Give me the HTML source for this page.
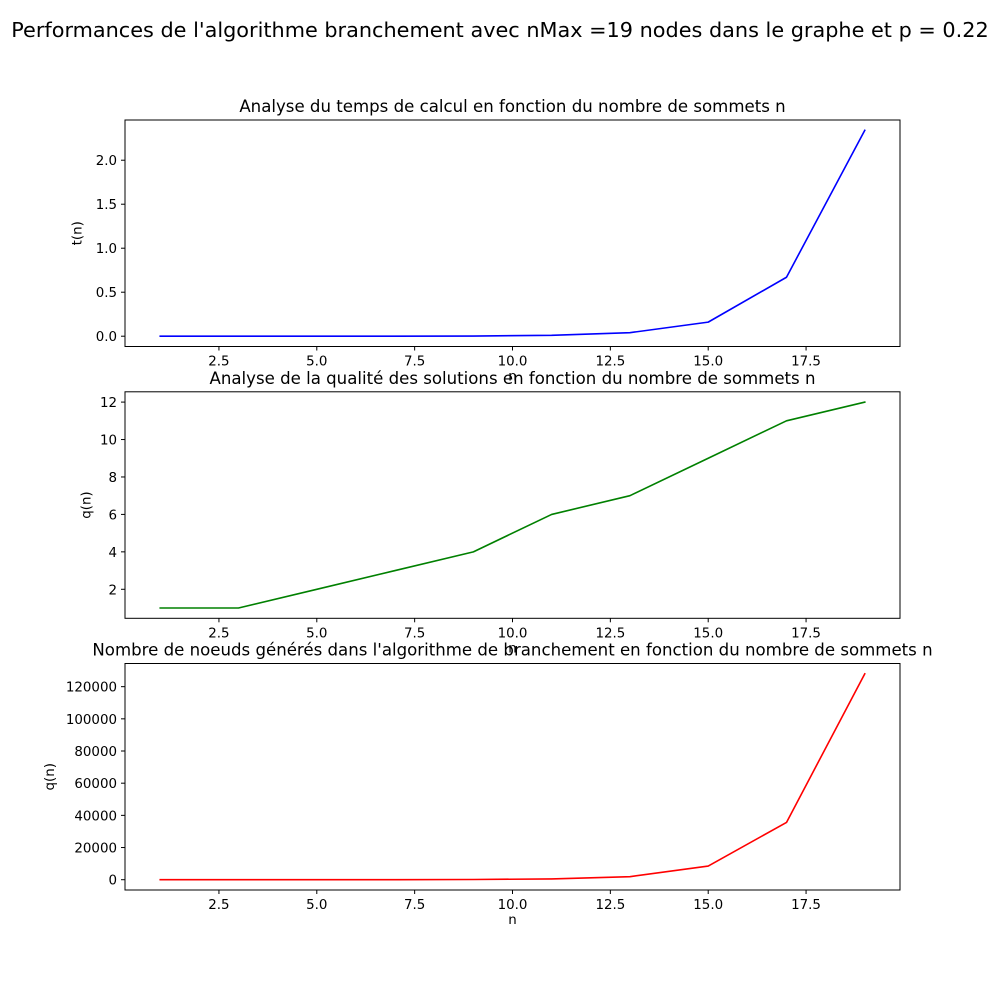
<!DOCTYPE html>
<html><head><meta charset="utf-8"><style>
body{margin:0;background:#fff;}
svg{display:block;font-family:"DejaVu Sans","Liberation Sans",sans-serif;}
</style></head><body>
<svg id="fig" width="1000" height="1000" viewBox="0 0 1000 1000">
<rect width="1000" height="1000" fill="#fff"/>
<text x="500" y="37" font-size="20.8" text-anchor="middle">Performances de l'algorithme branchement avec nMax =19 nodes dans le graphe et p = 0.22</text>
</svg>
<script>
const nValues = [1,3,5,7,9,11,13,15,17,19];
const timeValues = [0,0,0,0,0.002,0.01,0.04,0.16,0.67,2.34];
const qualityValues = [1,1,2,3,4,6,7,9,11,12];
const nodeValues = [1,5,15,40,120,500,1900,8500,35600,128000];
const xTicks = [2.5,5.0,7.5,10.0,12.5,15.0,17.5];
const xTickLabels = ["2.5","5.0","7.5","10.0","12.5","15.0","17.5"];
const timeTicks = [0,0.5,1,1.5,2];
const timeTickLabels = ["0.0","0.5","1.0","1.5","2.0"];
const qualityTicks = [2,4,6,8,10,12];
const qualityTickLabels = ["2","4","6","8","10","12"];
const nodeTicks = [0,20000,40000,60000,80000,100000,120000];
const nodeTickLabels = ["0","20000","40000","60000","80000","100000","120000"];

const NS="http://www.w3.org/2000/svg";
const svg=document.getElementById('fig');
function mk(tag,attrs,parent){const e=document.createElementNS(NS,tag);for(const k in attrs)e.setAttribute(k,attrs[k]);(parent||svg).appendChild(e);return e;}

function panel(key,top,title,ylabel,ys,yt,ytl,color){
  const L=125,R=900,H=226.5,B=top+H;
  const g=mk('g',{});
  
  
  const xmin=Math.min(...nValues),xmax=Math.max(...nValues),xp=(xmax-xmin)*0.05;
  const ymin=Math.min(...ys),ymax=Math.max(...ys),yp=(ymax-ymin)*0.05;
  const sx=v=>L+(v-(xmin-xp))/((xmax+xp)-(xmin-xp))*(R-L);
  const sy=v=>B-(v-(ymin-yp))/((ymax+yp)-(ymin-yp))*H;
  const t=mk('text',{x:(L+R)/2,y:top-8,'font-size':16.6,'text-anchor':'middle'},g);t.textContent=title;
  
  
  const pts=nValues.map((n,i)=>sx(n).toFixed(2)+','+sy(ys[i]).toFixed(2)).join(' ');
  const line=mk('polyline',{points:pts,fill:'none',stroke:color,'stroke-width':1.6,'stroke-linejoin':'round','stroke-linecap':'square'},g);
  
  
  const fr=mk('rect',{x:L,y:top,width:R-L,height:H,fill:'none',stroke:'#000','stroke-width':1},g);
  
  
  xTicks.forEach((v,i)=>{const x=sx(v);mk('line',{x1:x,x2:x,y1:B,y2:B+4,stroke:'#000'},g);
    const tx=mk('text',{x:x,y:B+19,'font-size':13.4,'text-anchor':'middle'},g);tx.textContent=xTickLabels[i];
    
    });
  yt.forEach((v,i)=>{const y=sy(v);mk('line',{x1:L-4,x2:L,y1:y,y2:y,stroke:'#000'},g);
    const tx=mk('text',{x:L-8,y:y+5,'font-size':13.4,'text-anchor':'end'},g);tx.textContent=ytl[i];
    
    });
  const xl=mk('text',{x:(L+R)/2,y:B+34,'font-size':13.4,'text-anchor':'middle'},g);xl.textContent='n';
  
  
  const maxw=Math.max(...ytl.map(s=>s.length))*9.2;
  const yx=L-16-maxw, yy=top+H/2;
  const yl=mk('text',{x:yx,y:yy,'font-size':13.4,'text-anchor':'middle',transform:`rotate(-90 ${yx} ${yy})`},g);yl.textContent=ylabel;
  
  
}
panel('time',120,"Analyse du temps de calcul en fonction du nombre de sommets n","t(n)",timeValues,timeTicks,timeTickLabels,'#0000ff');
panel('quality',391.8,"Analyse de la qualité des solutions en fonction du nombre de sommets n","q(n)",qualityValues,qualityTicks,qualityTickLabels,'#008000');
panel('nodes',663.5,"Nombre de noeuds générés dans l'algorithme de branchement en fonction du nombre de sommets n","q(n)",nodeValues,nodeTicks,nodeTickLabels,'#ff0000');
</script>
</body></html>
